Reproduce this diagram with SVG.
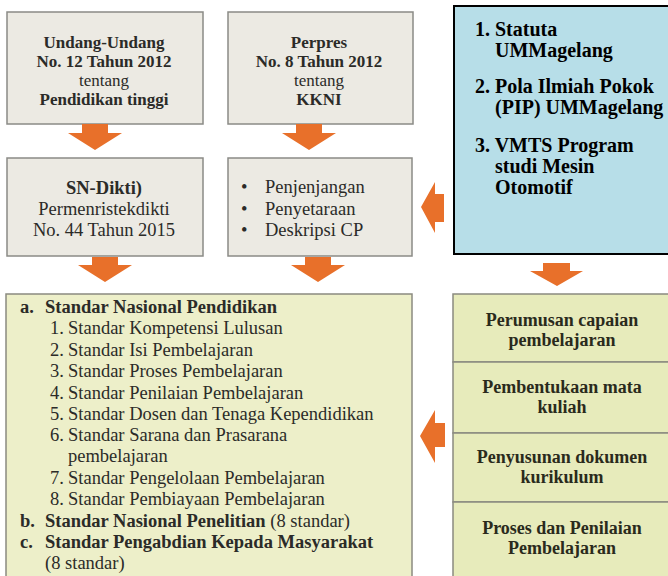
<svg xmlns="http://www.w3.org/2000/svg" width="668" height="576" viewBox="0 0 668 576">
<style>
text{font-family:"Liberation Serif","Times New Roman",serif;fill:#2b2b28}
.b{font-weight:bold}
.grey{fill:#ECEAE3;stroke:#8B8B86;stroke-width:1.5}
.blue{fill:#B7DEE8;stroke:#000;stroke-width:2}
.green{fill:#EDEFC9;stroke:#8B8B80;stroke-width:1.5}
.greenr{fill:#E7EBBB;stroke:#8B8B80;stroke-width:1.5}
.arr{fill:#E8702A}
.t17{font-size:17px}
.t18{font-size:18.5px}
.bl{font-size:20px;font-weight:bold;fill:#000}
.gt{font-size:18px;font-weight:bold;fill:#2a2a1c}
</style>
<rect width="668" height="576" fill="#fff"/>

<g id="node-uu">
<rect class="grey" x="7" y="12" width="196" height="112"/>
<text class="t17 b" x="104" y="48" text-anchor="middle">Undang-Undang</text>
<text class="t17 b" x="104" y="67" text-anchor="middle">No. 12 Tahun 2012</text>
<text class="t17" x="104" y="86" text-anchor="middle">tentang</text>
<text class="t17 b" x="104" y="105" text-anchor="middle">Pendidikan tinggi</text>
</g>

<g id="node-perpres">
<rect class="grey" x="228" y="12" width="185" height="112"/>
<text class="t17 b" x="319" y="48" text-anchor="middle">Perpres</text>
<text class="t17 b" x="319" y="67" text-anchor="middle">No. 8 Tahun 2012</text>
<text class="t17" x="319" y="86" text-anchor="middle">tentang</text>
<text class="t17 b" x="319" y="105" text-anchor="middle">KKNI</text>
</g>

<g id="node-sndikti">
<rect class="grey" x="7" y="158" width="196" height="98"/>
<text class="t18 b" x="104" y="194" text-anchor="middle">SN-Dikti)</text>
<text class="t18" x="104" y="215" text-anchor="middle">Permenristekdikti</text>
<text class="t18" x="104" y="236" text-anchor="middle">No. 44 Tahun 2015</text>
</g>

<g id="node-kkni-items">
<rect class="grey" x="228" y="158" width="184" height="98"/>
<text class="t18" x="241" y="193">•</text>
<text class="t18" x="265" y="193">Penjenjangan</text>
<text class="t18" x="241" y="215">•</text>
<text class="t18" x="265" y="215">Penyetaraan</text>
<text class="t18" x="241" y="236">•</text>
<text class="t18" x="265" y="236">Deskripsi CP</text>
</g>

<g id="node-statuta">
<rect class="blue" x="454" y="6" width="220" height="248"/>
<text class="bl" x="475" y="36">1. Statuta</text>
<text class="bl" x="495" y="57">UMMagelang</text>
<text class="bl" x="475" y="93">2. Pola Ilmiah Pokok</text>
<text class="bl" x="495" y="114">(PIP) UMMagelang</text>
<text class="bl" x="475" y="152">3. VMTS Program</text>
<text class="bl" x="495" y="173">studi Mesin</text>
<text class="bl" x="495" y="194">Otomotif</text>
</g>

<g id="node-standar">
<rect class="green" x="6" y="294" width="406" height="290"/>
<text class="t18 b" x="20" y="313">a.</text>
<text class="t18 b" x="45" y="313">Standar Nasional Pendidikan</text>
<text class="t18" x="50" y="334">1.</text>
<text class="t18" x="68" y="334">Standar Kompetensi Lulusan</text>
<text class="t18" x="50" y="356">2.</text>
<text class="t18" x="68" y="356">Standar Isi Pembelajaran</text>
<text class="t18" x="50" y="377">3.</text>
<text class="t18" x="68" y="377">Standar Proses Pembelajaran</text>
<text class="t18" x="50" y="399">4.</text>
<text class="t18" x="68" y="399">Standar Penilaian Pembelajaran</text>
<text class="t18" x="50" y="420">5.</text>
<text class="t18" x="68" y="420">Standar Dosen dan Tenaga Kependidikan</text>
<text class="t18" x="50" y="441">6.</text>
<text class="t18" x="68" y="441">Standar Sarana dan Prasarana</text>
<text class="t18" x="68" y="462">pembelajaran</text>
<text class="t18" x="50" y="484">7.</text>
<text class="t18" x="68" y="484">Standar Pengelolaan Pembelajaran</text>
<text class="t18" x="50" y="505">8.</text>
<text class="t18" x="68" y="505">Standar Pembiayaan Pembelajaran</text>
<text class="t18 b" x="20" y="527">b.</text>
<text class="t18" x="45" y="527"><tspan class="b">Standar Nasional Penelitian</tspan> (8 standar)</text>
<text class="t18 b" x="20" y="548">c.</text>
<text class="t18 b" x="45" y="548">Standar Pengabdian Kepada Masyarakat</text>
<text class="t18" x="45" y="569">(8 standar)</text>
</g>

<g id="node-perumusan">
<rect class="greenr" x="453" y="294" width="220" height="68"/>
<text class="gt" x="562" y="326" text-anchor="middle">Perumusan capaian</text>
<text class="gt" x="562" y="346" text-anchor="middle">pembelajaran</text>
</g>
<g id="node-pembentukan">
<rect class="greenr" x="453" y="362" width="220" height="71"/>
<text class="gt" x="562" y="393" text-anchor="middle">Pembentukaan mata</text>
<text class="gt" x="562" y="413" text-anchor="middle">kuliah</text>
</g>
<g id="node-penyusunan">
<rect class="greenr" x="453" y="433" width="220" height="69"/>
<text class="gt" x="562" y="463" text-anchor="middle">Penyusunan dokumen</text>
<text class="gt" x="562" y="483" text-anchor="middle">kurikulum</text>
</g>
<g id="node-proses">
<rect class="greenr" x="453" y="502" width="220" height="80"/>
<text class="gt" x="562" y="534" text-anchor="middle">Proses dan Penilaian</text>
<text class="gt" x="562" y="554" text-anchor="middle">Pembelajaran</text>
</g>

<g id="connectors">
<polygon class="arr" points="82,124 108,124 108,133 122,133 95,150 68,133 82,133"/>
<polygon class="arr" points="296,124 322,124 322,133 336,133 309,150 282,133 296,133"/>
<polygon class="arr" points="92,257 118,257 118,265 132,265 105,282 78,265 92,265"/>
<polygon class="arr" points="305,257 331,257 331,265 345,265 318,282 291,265 305,265"/>
<polygon class="arr" points="543,263 570,263 570,271 583,271 557,286 530,271 543,271"/>
<polygon class="arr" points="444,194 444,222 435,222 435,233 421,207 435,182 435,194"/>
<polygon class="arr" points="445,423 445,447 435,447 435,463 420,436 435,410 435,423"/>
</g>
</svg>
